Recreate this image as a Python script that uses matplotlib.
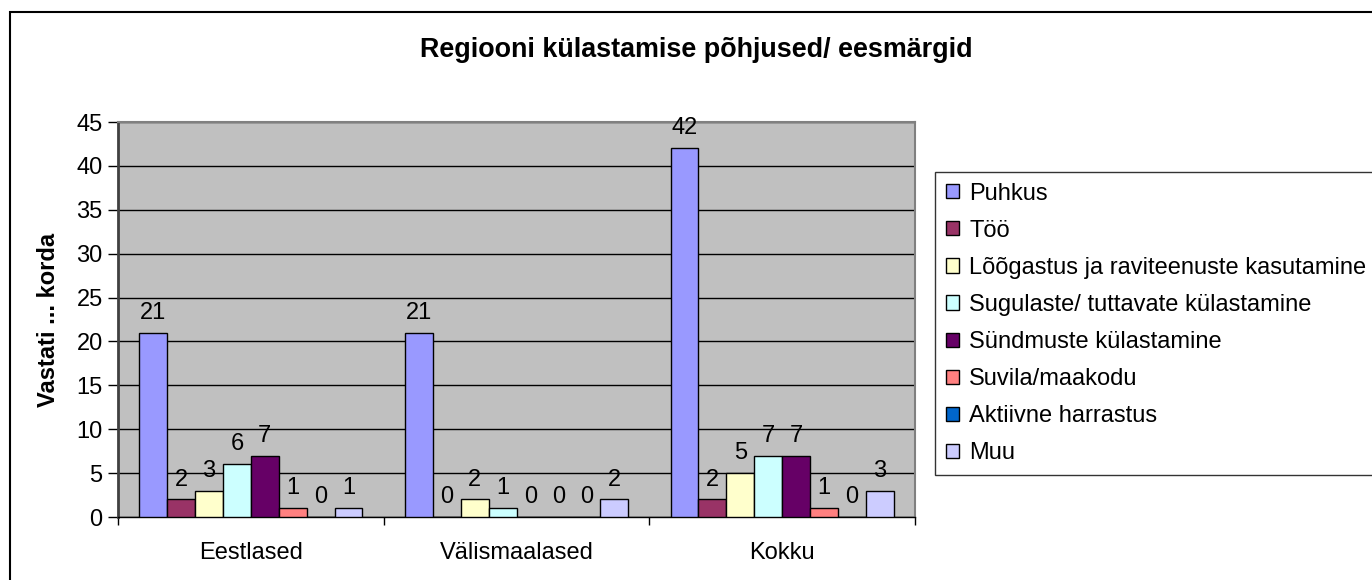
import matplotlib.pyplot as plt
import numpy as np
from matplotlib.patches import Rectangle

plt.rcParams['font.family'] = ['Liberation Sans', 'DejaVu Sans']

categories = ["Eestlased", "Välismaalased", "Kokku"]
series = ["Puhkus", "Töö", "Lõõgastus ja raviteenuste kasutamine",
          "Sugulaste/ tuttavate külastamine", "Sündmuste külastamine",
          "Suvila/maakodu", "Aktiivne harrastus", "Muu"]
values = [
    [21, 21, 42],   # Puhkus
    [2, 0, 2],      # Töö
    [3, 2, 5],      # Lõõgastus
    [6, 1, 7],      # Sugulaste
    [7, 0, 7],      # Sündmuste
    [1, 0, 1],      # Suvila
    [0, 0, 0],      # Aktiivne
    [1, 2, 3],      # Muu
]
colors = ["#9999FF", "#993366", "#FFFFCC", "#CCFFFF", "#660066",
          "#FF8080", "#0066CC", "#CCCCFF"]

fig = plt.figure(figsize=(13.72, 5.8), dpi=100)
ax = fig.add_axes([118/1372, 63/580, 797/1372, 395/580])
ax.set_facecolor("#C0C0C0")

x = np.arange(len(categories))
w = 0.105
n = len(series)
for i, (name, vals, c) in enumerate(zip(series, values, colors)):
    pos = x - w * n / 2 + w * (i + 0.5)
    ax.bar(pos, vals, w, color=c, edgecolor="black", linewidth=1,
           label=name, zorder=3)
    for p, v in zip(pos, vals):
        ax.annotate(str(v), (p, v), xytext=(0, 10), textcoords="offset points",
                    ha="center", va="baseline", fontsize=17, zorder=4)

ax.set_xlim(-0.5, 2.5)
ax.set_ylim(0, 45)
ax.set_yticks(range(0, 46, 5))
ax.tick_params(axis="y", labelsize=17, length=7, width=1, direction="out", pad=4)
ax.set_xticks(x)
ax.set_xticklabels(categories, fontsize=17)
ax.tick_params(axis="x", length=0, pad=18)
ax.set_xticks([-0.5, 0.5, 1.5, 2.5], minor=True)
ax.tick_params(axis="x", which="minor", length=6, width=1, direction="out")
ax.yaxis.grid(True, color="black", linewidth=1, zorder=1)
ax.set_axisbelow(True)
for s in ["top", "right"]:
    ax.spines[s].set_color("#808080")
    ax.spines[s].set_linewidth(1.5)
ax.spines["left"].set_color("#404040")
ax.spines["left"].set_linewidth(2)
ax.spines["bottom"].set_color("black")
ax.spines["bottom"].set_linewidth(1)

ax.set_ylabel("Vastati ... korda", fontsize=17, fontweight="bold", labelpad=12)

fig.text(696/1372, 1 - 50/580, "Regiooni külastamise põhjused/ eesmärgid",
         ha="center", va="center", fontsize=19.4, fontweight="bold")

# legend box runs past the right edge, like in the original
leg = fig.legend(loc="upper left", bbox_to_anchor=(935/1372, 0, 0.5, 1 - 172/580),
                 mode="expand", fontsize=17, frameon=True, fancybox=False,
                 edgecolor="black", handlelength=0.55, handleheight=0.55,
                 handletextpad=0.45, labelspacing=0.64, borderpad=0.45,
                 borderaxespad=0)
leg.get_frame().set_linewidth(1)

fig.patches.append(Rectangle((10/1372, -0.1), 1.2, 1 - 12/580 + 0.1,
                             transform=fig.transFigure, fill=False,
                             edgecolor="black", linewidth=1.5))

fig.savefig("out.png", dpi=100)
